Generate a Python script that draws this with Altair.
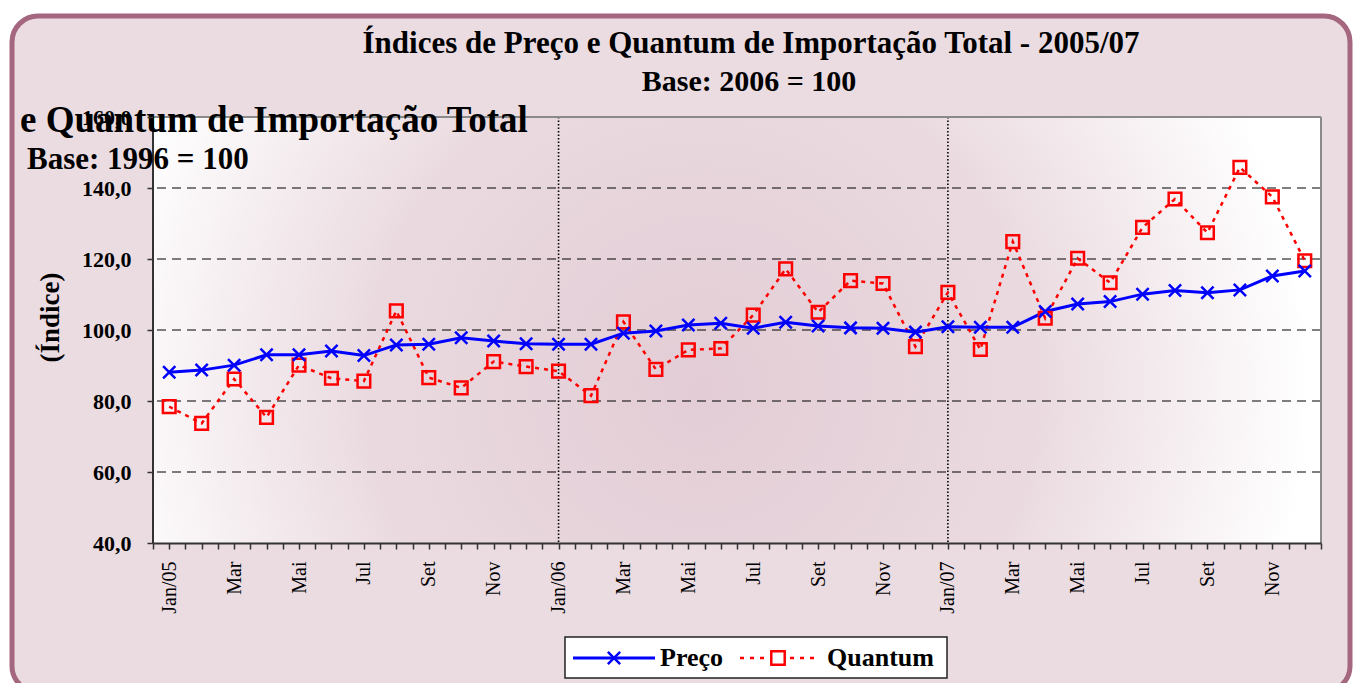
import json
import altair as alt
import pandas as pd

# ---------------- data ----------------
months = ["Jan/05", "Fev", "Mar", "Abr", "Mai", "Jun", "Jul", "Ago", "Set", "Out", "Nov", "Dez",
          "Jan/06", "Fev", "Mar", "Abr", "Mai", "Jun", "Jul", "Ago", "Set", "Out", "Nov", "Dez",
          "Jan/07", "Fev", "Mar", "Abr", "Mai", "Jun", "Jul", "Ago", "Set", "Out", "Nov", "Dez"]
tick_labels = ["Jan/05", "Mar", "Mai", "Jul", "Set", "Nov",
               "Jan/06", "Mar", "Mai", "Jul", "Set", "Nov",
               "Jan/07", "Mar", "Mai", "Jul", "Set", "Nov"]
preco = [88.1, 88.7, 90.1, 93.0, 93.0, 94.1, 92.8, 95.8, 96.0, 97.8, 96.9, 96.1,
         96.0, 96.0, 99.1, 99.7, 101.4, 101.9, 100.5, 102.2, 101.1, 100.6, 100.5, 99.4,
         100.9, 100.8, 100.8, 105.2, 107.3, 108.0, 110.1, 111.1, 110.5, 111.3, 115.2, 116.6]
quantum = [78.4, 73.7, 86.2, 75.4, 90.1, 86.4, 85.6, 105.4, 86.6, 83.7, 91.1, 89.7,
           88.4, 81.5, 102.3, 88.9, 94.4, 94.8, 104.2, 117.2, 105.0, 113.9, 113.1, 95.3,
           110.6, 94.5, 124.9, 103.3, 120.2, 113.3, 128.9, 136.9, 127.4, 145.8, 137.5, 119.5]
y_ticks = [40, 60, 80, 100, 120, 140, 160]
grid_values = [60, 80, 100, 120, 140]
year_starts = [12, 24]

title_lines = ["Índices de Preço e Quantum de Importação Total - 2005/07", "Base: 2006 = 100"]
ghost_lines = ["e Quantum de Importação Total", "Base: 1996 = 100"]
series_names = ["Preço", "Quantum"]
y_title = "(Índice)"

# ---------------- tables ----------------
df = pd.DataFrame({"idx": list(range(len(months))), "mes": months,
                   "preco": preco, "quantum": quantum})
grid_df = pd.DataFrame({"v": grid_values})
year_df = pd.DataFrame({"idx": year_starts})
one = alt.Data(values=[{"d": 0}])

W, H = 1168, 426
FONT = "Liberation Serif"
BLUE = "#0000ff"
RED = "#ff0000"
X_PATH = "M-1,-1L1,1M-1,1L1,-1"

half_steps = [i * 0.5 - 0.5 for i in range(len(months) * 2 + 1)]
label_expr = ("(datum.value % 2 === 0) ? " + json.dumps(tick_labels, ensure_ascii=False)
              + "[datum.value / 2] : ''")

xscale = alt.Scale(domain=[-0.5, len(months) - 0.5], nice=False, zero=False)
yscale = alt.Scale(domain=[40, 160], nice=False, zero=False)

x_axis = alt.Axis(values=half_steps, labelExpr=label_expr, labelAngle=270,
                  labelFont=FONT, labelFontSize=20, labelColor="black",
                  labelPadding=12, labelOverlap=False, labelFlush=False,
                  tickSize=6, tickColor="#333333", tickWidth=1.5,
                  domainColor="#333333", domainWidth=2, grid=False, title=None, zindex=1)
y_axis = alt.Axis(values=y_ticks, labelExpr="replace(format(datum.value, '.1f'), '.', ',')",
                  labelFont=FONT, labelFontSize=22, labelFontWeight="bold", labelColor="black",
                  labelPadding=16, tickSize=6, tickColor="#333333", tickWidth=1.5,
                  domain=False, grid=False, title=y_title, titleFont=FONT, titleFontSize=27,
                  titleFontWeight="bold", titleColor="black", titleAngle=270,
                  titleX=-103, titleY=200, titleAlign="center", titleBaseline="middle",
                  zindex=1)

X = lambda f: alt.X(f, scale=xscale, axis=x_axis)
Y = lambda f: alt.Y(f, scale=yscale, axis=y_axis)

# ---------------- layers ----------------
frame = alt.Chart(one).mark_rect(cornerRadius=26, fill="#ebdce2", stroke="#a5677f",
                                 strokeWidth=5).encode(
    x=alt.value(-141), x2=alt.value(1197), y=alt.value(-101), y2=alt.value(575))

plot_bg = alt.Chart(one).mark_rect(
    fill=alt.Gradient(gradient="radial",
                      stops=[alt.GradientStop(offset=0, color="#e3ccd5"),
                             alt.GradientStop(offset=0.55, color="#eadae0"),
                             alt.GradientStop(offset=1, color="#ffffff")],
                      x1=0.47, y1=0.55, x2=0.47, y2=0.55, r1=0, r2=0.52)).encode(
    x=alt.value(0), x2=alt.value(W), y=alt.value(0), y2=alt.value(H))

grid = alt.Chart(grid_df).mark_rule(color="#000000", strokeWidth=1.2, strokeDash=[9, 6]).encode(
    y=Y("v:Q"))

years = alt.Chart(year_df).mark_rule(color="#000000", strokeWidth=1.6, strokeDash=[1.5, 2]).encode(
    x=X("idx:Q"))

line_p = alt.Chart(df).mark_line(color=BLUE, strokeWidth=3).encode(
    x=X("idx:Q"), y=Y("preco:Q"))
line_q = alt.Chart(df).mark_line(color=RED, strokeWidth=2.5, strokeDash=[4, 5]).encode(
    x=X("idx:Q"), y=Y("quantum:Q"))
pts_p = alt.Chart(df).mark_point(shape=X_PATH, size=150, filled=False, stroke=BLUE,
                                 strokeWidth=2.5, opacity=1).encode(
    x=X("idx:Q"), y=Y("preco:Q"))
pts_q = alt.Chart(df).mark_point(shape="square", size=160, filled=False, stroke=RED,
                                 strokeWidth=2.5, opacity=1).encode(
    x=X("idx:Q"), y=Y("quantum:Q"))

border_top = alt.Chart(one).mark_rule(color="#8a8a8a", strokeWidth=2).encode(
    x=alt.value(0), x2=alt.value(W), y=alt.value(0))
border_right = alt.Chart(one).mark_rule(color="#8a8a8a", strokeWidth=2).encode(
    x=alt.value(W), y=alt.value(0), y2=alt.value(H))
border_left = alt.Chart(one).mark_rule(color="#333333", strokeWidth=2).encode(
    x=alt.value(0), y=alt.value(0), y2=alt.value(H))

ghost1 = alt.Chart(one).mark_text(text=ghost_lines[0], align="left", baseline="alphabetic",
                                  font=FONT, fontSize=37, fontWeight="bold", color="black").encode(
    x=alt.value(-133), y=alt.value(15))
ghost2 = alt.Chart(one).mark_text(text=ghost_lines[1], align="left", baseline="alphabetic",
                                  font=FONT, fontSize=31, fontWeight="bold", color="black").encode(
    x=alt.value(-126), y=alt.value(52))

title1 = alt.Chart(one).mark_text(text=title_lines[0], align="center", baseline="alphabetic",
                                  font=FONT, fontSize=31, fontWeight="bold", color="black").encode(
    x=alt.value(598), y=alt.value(-64))
title2 = alt.Chart(one).mark_text(text=title_lines[1], align="center", baseline="alphabetic",
                                  font=FONT, fontSize=30, fontWeight="bold", color="black").encode(
    x=alt.value(596), y=alt.value(-26))

# legend (decoration)
leg_box = alt.Chart(one).mark_rect(fill="white", stroke="#222222", strokeWidth=1.5).encode(
    x=alt.value(412), x2=alt.value(794), y=alt.value(520), y2=alt.value(561))
leg_lp = alt.Chart(one).mark_rule(color=BLUE, strokeWidth=3).encode(
    x=alt.value(420), x2=alt.value(502), y=alt.value(541))
leg_pp = alt.Chart(one).mark_point(shape=X_PATH, size=150, filled=False, stroke=BLUE,
                                   strokeWidth=2.5, opacity=1).encode(
    x=alt.value(461), y=alt.value(541))
leg_tp = alt.Chart(one).mark_text(text=series_names[0], align="left", baseline="alphabetic",
                                  font=FONT, fontSize=26, fontWeight="bold", color="black").encode(
    x=alt.value(507), y=alt.value(549))
leg_lq = alt.Chart(one).mark_rule(color=RED, strokeWidth=2.5, strokeDash=[4, 6]).encode(
    x=alt.value(587), x2=alt.value(664), y=alt.value(541))
leg_pq = alt.Chart(one).mark_point(shape="square", size=180, filled=True, fill="white",
                                   stroke=RED, strokeWidth=2.5, opacity=1).encode(
    x=alt.value(625), y=alt.value(541))
leg_tq = alt.Chart(one).mark_text(text=series_names[1], align="left", baseline="alphabetic",
                                  font=FONT, fontSize=26, fontWeight="bold", color="black").encode(
    x=alt.value(674), y=alt.value(549))

chart = alt.layer(
    frame, plot_bg, grid, years, line_q, line_p, pts_q, pts_p,
    border_top, border_right, border_left, ghost1, ghost2,
    leg_box, leg_lp, leg_pp, leg_tp, leg_lq, leg_pq, leg_tq, title1, title2
).properties(
    width=W, height=H,
    padding={"left": 145, "top": 109, "right": 32, "bottom": 140},
    autosize=alt.AutoSizeParams(type="none"),
    background="white",
).configure_view(strokeWidth=0)

chart.save("out.html", embed_options={"renderer": "svg", "actions": False})
